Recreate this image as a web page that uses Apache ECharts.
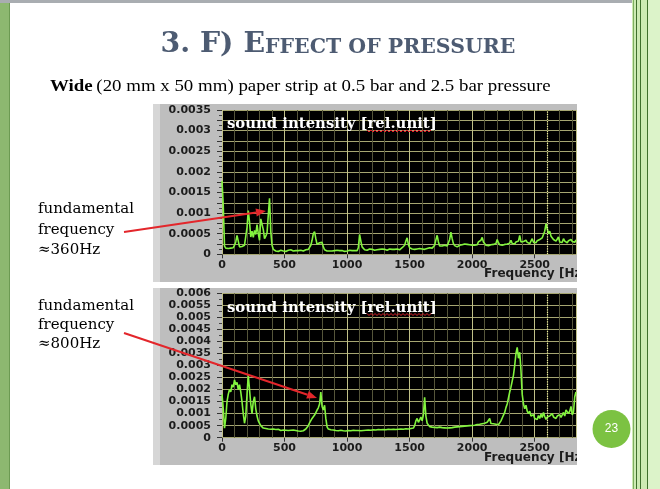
<!DOCTYPE html>
<html><head><meta charset="utf-8">
<script src="https://cdn.jsdelivr.net/npm/echarts@6/dist/echarts.min.js"></script>
<style>html,body{margin:0;padding:0;background:#fff}#c{width:660px;height:489px}</style>
</head><body><div id="c"></div>
<script>
// frequency step of the sampled spectra (Hz)
const freqStep = 10;
// chart 1 (0.5 bar) sound intensity, in units of 1e-4 rel.unit, 0..2830 Hz
const int1 = [
 17.8, 11.8, 2.0, 1.5, 1.8, 1.4, 1.7, 1.5, 1.9, 1.6,
 2.2, 3.0, 4.6, 3.2, 1.8, 1.5, 1.9, 1.6, 2.2, 2.6,
 6.5, 10.6, 7.8, 4.2, 5.6, 4.1, 5.8, 4.8, 7.2, 5.0,
 3.4, 8.6, 9.0, 6.0, 3.8, 4.4, 5.2, 9.5, 13.6, 5.5,
 2.2, 1.2, 0.9, 0.8, 0.9, 0.7, 0.8, 1.0, 0.7, 0.8,
 0.9, 0.7, 0.8, 1.0, 0.8, 1.1, 0.9, 0.8, 1.0, 0.9,
 1.2, 0.9, 0.8, 1.0, 0.9, 0.8, 1.0, 1.1, 0.9, 1.2,
 1.5, 2.2, 3.4, 5.0, 5.5, 3.8, 2.4, 2.0, 2.8, 3.2,
 2.9, 1.8, 1.1, 0.9, 0.8, 1.0, 0.8, 0.9, 0.8, 1.0,
 0.9, 0.8, 1.0, 0.8, 0.9, 0.7, 0.9, 0.8, 0.7, 0.9,
 0.8, 0.9, 1.0, 0.8, 0.9, 0.8, 0.9, 1.0, 0.9, 1.6,
 4.8, 3.2, 1.8, 1.4, 1.1, 1.2, 1.0, 1.1, 1.3, 1.0,
 1.2, 1.1, 1.0, 1.3, 1.1, 1.0, 1.2, 1.1, 1.3, 1.0,
 1.2, 1.1, 1.0, 1.2, 1.3, 1.1, 1.2, 1.0, 1.2, 1.1,
 1.3, 1.2, 1.1, 1.4, 1.6, 1.5, 2.2, 3.2, 4.0, 2.4,
 1.6, 1.4, 1.3, 1.5, 1.2, 1.4, 1.3, 1.2, 1.4, 1.5,
 1.3, 1.4, 1.2, 1.5, 1.4, 1.3, 1.6, 1.4, 1.5, 1.7,
 2.2, 3.5, 4.6, 3.0, 2.0, 1.8, 2.0, 1.7, 2.2, 1.8,
 2.0, 2.4, 3.6, 5.4, 3.8, 2.6, 2.1, 2.4, 1.8, 2.0,
 2.2, 1.9, 2.3, 2.0, 2.5, 2.1, 2.4, 2.0, 2.3, 2.1,
 2.2, 2.6, 2.2, 2.5, 2.3, 3.0, 2.6, 3.4, 4.1, 3.0,
 2.6, 2.2, 2.4, 2.1, 2.5, 2.3, 2.0, 2.4, 2.2, 2.6,
 3.6, 2.8, 2.3, 2.5, 2.2, 2.6, 2.4, 2.8, 2.5, 2.2,
 2.7, 3.4, 2.6, 2.9, 2.5, 3.0, 2.7, 3.2, 4.6, 3.0,
 2.8, 3.1, 2.7, 3.4, 2.9, 3.2, 2.6, 3.0, 3.8, 2.9,
 3.2, 2.8, 3.3, 3.0, 3.6, 3.2, 4.0, 4.8, 5.6, 7.4,
 6.2, 5.0, 5.6, 4.4, 4.8, 3.6, 4.0, 3.2, 3.6, 4.2,
 3.0, 3.4, 2.9, 3.8, 3.2, 3.5, 2.8, 3.3, 3.0, 3.6,
 3.1, 3.4, 2.9, 3.5
];
// chart 2 (2.5 bar) sound intensity, in units of 1e-4 rel.unit, 0..2830 Hz
const int2 = [
 18, 12, 4, 8, 15, 18, 20, 19, 22, 21,
 24, 22, 23, 20, 22, 19, 15, 10, 6, 9,
 18, 26, 20, 14, 10, 15, 17, 12, 9, 7,
 6, 5, 4.5, 4, 3.6, 3.8, 3.4, 3.6, 3.2, 3.5,
 3.3, 3.6, 3.2, 3.4, 3.1, 3.5, 3.3, 3.0, 3.4, 3.2,
 3.5, 3.1, 3.3, 3.0, 3.4, 3.1, 2.8, 3.2, 2.7, 3.0,
 2.6, 2.8, 2.5, 2.7, 2.6, 2.9, 3.0, 3.6, 4.2, 5.0,
 6.2, 7.0, 8.0, 8.6, 9.4, 10.0, 11.5, 12.4, 14.0, 19.0,
 13.0, 11.5, 13.5, 8.0, 4.5, 3.6, 3.0, 3.3, 2.9, 3.2,
 2.8, 3.0, 2.6, 2.9, 2.7, 3.1, 2.6, 2.9, 2.5, 2.8,
 2.6, 3.0, 2.7, 2.9, 2.6, 3.1, 2.8, 3.0, 2.7, 3.0,
 3.2, 2.9, 3.3, 3.0, 3.4, 3.1, 3.5, 3.2, 3.4, 3.1,
 3.5, 3.3, 3.6, 3.2, 3.8, 3.4, 3.6, 3.3, 3.7, 3.4,
 3.6, 3.3, 3.8, 3.5, 3.7, 3.4, 3.9, 3.5, 3.7, 3.4,
 3.8, 3.5, 3.9, 3.6, 3.8, 3.5, 4.0, 3.7, 3.9, 3.6,
 4.1, 3.8, 4.4, 4.0, 5.0, 7.0, 8.0, 6.4, 7.4, 8.6,
 7.0, 9.5, 16.8, 9.0, 6.0, 5.2, 4.6, 4.9, 4.4, 4.7,
 4.3, 4.6, 4.2, 4.8, 4.4, 4.6, 4.2, 4.5, 4.1, 4.4,
 4.0, 4.3, 4.1, 4.5, 4.2, 4.0, 4.4, 4.1, 4.5, 4.2,
 4.6, 4.3, 4.7, 4.4, 4.8, 4.5, 4.9, 4.6, 5.0, 4.7,
 5.1, 4.8, 5.2, 5.0, 5.5, 5.1, 5.6, 5.3, 5.8, 5.4,
 6.0, 5.6, 6.4, 5.8, 8.0, 5.9, 5.4, 5.8, 5.2, 5.6,
 5.0, 5.4, 5.8, 7.0, 8.2, 9.0, 10.5, 12.5, 14.0, 16.5,
 19.0, 21.0, 23.5, 26.0, 30.0, 35.0, 37.5, 33.0, 35.5, 28.0,
 18.0, 14.0, 12.0, 13.5, 11.0, 10.0, 11.0, 9.0, 8.4, 9.6,
 8.0, 8.8, 7.6, 9.2, 8.0, 9.8, 8.4, 10.5, 8.8, 7.6,
 8.6, 7.8, 9.0, 8.2, 10.0, 8.6, 9.4, 8.0, 9.0, 8.2,
 9.6, 8.4, 9.2, 10.5, 9.0, 11.5, 12.0, 10.0, 11.0, 13.0,
 9.5, 10.8, 17.0, 19.0
];
const cursorFreq = [2600];
const xMax = 2830;
const yMax1 = 0.0035, yMax2 = 0.006;

const toPts = arr => arr.map((v, i) => [i * freqStep, v * 1e-4]);

const labelFont = {fontFamily: 'DejaVu Sans', fontWeight: 'bold', fontSize: 11, color: '#1c1c1c'};
function xAx(g) {
  return {
    type: 'value', gridIndex: g, min: 0, max: xMax, interval: 500,
    axisLine: {show: false},
    axisTick: {show: true, length: 4, lineStyle: {color: '#333'}},
    minorTick: {show: false, splitNumber: 5},
    axisLabel: Object.assign({margin: 5, showMaxLabel: false, showMinLabel: true, formatter: v => String(v)}, labelFont),
    splitLine: {show: true, lineStyle: {color: '#c0c088', width: 1}},
    minorSplitLine: {show: true, lineStyle: {color: '#55553a', width: 1}}
  };
}
function yAx(g, max, interval, everyOther) {
  return {
    type: 'value', gridIndex: g, min: 0, max: max, interval: interval,
    axisLine: {show: false},
    axisTick: {show: true, length: 5, lineStyle: {color: '#333'}},
    minorTick: {show: true, splitNumber: 2, length: 3, lineStyle: {color: '#444'}},
    axisLabel: Object.assign({margin: 11, formatter: (v, i) => (everyOther && i % 2 === 1) ? '' : String(+v.toFixed(5))}, labelFont),
    splitLine: {show: true, lineStyle: {color: '#a6a672', width: 1}},
    minorSplitLine: {show: false}
  };
}
function series(g, arr) {
  return {
    type: 'line', xAxisIndex: g, yAxisIndex: g, data: toPts(arr),
    showSymbol: false, symbol: 'none', clip: true, animation: false,
    lineStyle: {color: '#82f43e', width: 1.6},
    markLine: {
      silent: true, symbol: 'none', animation: false, label: {show: false},
      lineStyle: {color: '#ecec9c', type: 'dotted', width: 1.2},
      data: cursorFreq.map(f => ({xAxis: f}))
    }
  };
}

function squiggle(x0, x1, y) {
  const pts = [];
  let k = 0;
  for (let x = x0; x <= x1; x += 2, k++) pts.push([x, y + (k % 2 ? 1 : -1)]);
  return {type: 'polyline', shape: {points: pts}, style: {stroke: '#e0202a', lineWidth: 1, fill: null}, z: 60};
}
function arrow(x0, y0, x1, y1) {
  const dx = x1 - x0, dy = y1 - y0, L = Math.hypot(dx, dy), ux = dx / L, uy = dy / L;
  const bx = x1 - ux * 10, by = y1 - uy * 10, px = -uy * 4, py = ux * 4;
  return [
    {type: 'line', shape: {x1: x0, y1: y0, x2: bx, y2: by}, style: {stroke: '#e3262b', lineWidth: 2}, z: 100},
    {type: 'polygon', shape: {points: [[x1, y1], [bx + px, by + py], [bx - px, by - py]]}, style: {fill: '#e3262b'}, z: 100}
  ];
}
const serif = 'DejaVu Serif';
const elements = [
  {type: 'rect', shape: {x: 0, y: 0, width: 10, height: 489}, style: {fill: '#8db870'}, z: -10},
  {type: 'rect', shape: {x: 9, y: 0, width: 1, height: 489}, style: {fill: '#6c9a52'}, z: -9},
  {type: 'rect', shape: {x: 0, y: 0, width: 632, height: 3}, style: {fill: '#a9adb1'}, z: -9},
  {type: 'rect', shape: {x: 632, y: 0, width: 28, height: 489}, style: {fill: '#cdebb3'}, z: -10},
  {type: 'rect', shape: {x: 648, y: 0, width: 12, height: 489}, style: {fill: '#dcf3c9'}, z: -10},
  {type: 'rect', shape: {x: 633, y: 0, width: 1, height: 489}, style: {fill: '#7fb060'}, z: -9},
  {type: 'rect', shape: {x: 636, y: 0, width: 1, height: 489}, style: {fill: '#3f6f2c'}, z: -9},
  {type: 'rect', shape: {x: 640, y: 0, width: 1, height: 489}, style: {fill: '#3f6f2c'}, z: -9},
  {type: 'rect', shape: {x: 647, y: 0, width: 1, height: 489}, style: {fill: '#3f6f2c'}, z: -9},
  // chart panels
  {type: 'rect', shape: {x: 153, y: 104, width: 424, height: 178}, style: {fill: '#bebebe'}, z: -5},
  {type: 'rect', shape: {x: 153, y: 104, width: 7, height: 178}, style: {fill: '#d6d6d6'}, z: -4},
  {type: 'rect', shape: {x: 153, y: 288, width: 424, height: 177}, style: {fill: '#bebebe'}, z: -5},
  {type: 'rect', shape: {x: 153, y: 288, width: 7, height: 177}, style: {fill: '#d6d6d6'}, z: -4},
  // titles
  {type: 'text', x: 338, y: 58, scaleX: 1.05, style: {
    text: '{a|3. F) E}{b|FFECT OF PRESSURE}', align: 'center', verticalAlign: 'bottom',
    rich: {a: {fontFamily: serif, fontWeight: 'bold', fontSize: 27, fill: '#4d5b72', verticalAlign: 'bottom'},
           b: {fontFamily: serif, fontWeight: 'bold', fontSize: 19.5, fill: '#4d5b72', verticalAlign: 'bottom'}}}, z: 5},
  {type: 'text', x: 50, y: 87, scaleX: 1.11, style: {
    text: '{b|Wide} {r|(20 mm x 50 mm) paper strip at 0.5 bar and 2.5 bar pressure}', align: 'left', verticalAlign: 'middle',
    rich: {b: {fontFamily: 'Liberation Serif', fontWeight: 'bold', fontSize: 17, fill: '#000'},
           r: {fontFamily: 'Liberation Serif', fontSize: 17, fill: '#000'}}}, z: 5},
  // annotations
  {type: 'text', x: 38, y: 199, style: {text: 'fundamental\nfrequency\n≈360Hz', fontFamily: serif, fontSize: 15, lineHeight: 20.5, fill: '#000', align: 'left', verticalAlign: 'top'}, z: 5},
  {type: 'text', x: 38, y: 297, style: {text: 'fundamental\nfrequency\n≈800Hz', fontFamily: serif, fontSize: 15, lineHeight: 19, fill: '#000', align: 'left', verticalAlign: 'top'}, z: 5},
  // in-plot labels
  {type: 'text', x: 227, y: 124, scaleX: 1.06, style: {text: 'sound intensity [rel.unit]', fontFamily: serif, fontWeight: 'bold', fontSize: 14, fill: '#fff', align: 'left', verticalAlign: 'middle'}, z: 50},
  {type: 'text', x: 227, y: 308, scaleX: 1.06, style: {text: 'sound intensity [rel.unit]', fontFamily: serif, fontWeight: 'bold', fontSize: 14, fill: '#fff', align: 'left', verticalAlign: 'middle'}, z: 50},
  squiggle(367, 431, 131),
  squiggle(367, 431, 314.5),
  // axis names (cut at the panel edge as in the slide)
  {type: 'text', x: 484, y: 274, scaleX: 1.05, style: {text: 'Frequency [Hz]', fontFamily: 'DejaVu Sans', fontWeight: 'bold', fontSize: 11.5, fill: '#1c1c1c', align: 'left', verticalAlign: 'middle'}, z: 10},
  {type: 'text', x: 484, y: 458, scaleX: 1.05, style: {text: 'Frequency [Hz]', fontFamily: 'DejaVu Sans', fontWeight: 'bold', fontSize: 11.5, fill: '#1c1c1c', align: 'left', verticalAlign: 'middle'}, z: 10},
  {type: 'rect', shape: {x: 577, y: 100, width: 55, height: 370}, style: {fill: '#fff'}, z: 40},
  // page number
  {type: 'circle', shape: {cx: 611.5, cy: 429, r: 19}, style: {fill: '#7cc242'}, z: 45},
  {type: 'text', x: 611.5, y: 429, style: {text: '23', fontFamily: 'Liberation Sans', fontSize: 12, fill: '#fff', align: 'center', verticalAlign: 'middle'}, z: 46}
].concat(arrow(124, 232, 266, 211), arrow(124, 333, 317, 398));

const chart = echarts.init(document.getElementById('c'), null, {renderer: 'canvas'});
chart.setOption({
  animation: false,
  backgroundColor: '#fff',
  grid: [
    {left: 222, top: 110, width: 354, height: 144.3, show: true, backgroundColor: '#000', borderWidth: 0, containLabel: false},
    {left: 222, top: 293.3, width: 354, height: 144.4, show: true, backgroundColor: '#000', borderWidth: 0, containLabel: false}
  ],
  xAxis: [xAx(0), xAx(1)],
  yAxis: [yAx(0, yMax1, 0.00025, true), yAx(1, yMax2, 0.0005, false)],
  series: [series(0, int1), series(1, int2)],
  graphic: {elements: elements}
});
</script>
</body></html>
